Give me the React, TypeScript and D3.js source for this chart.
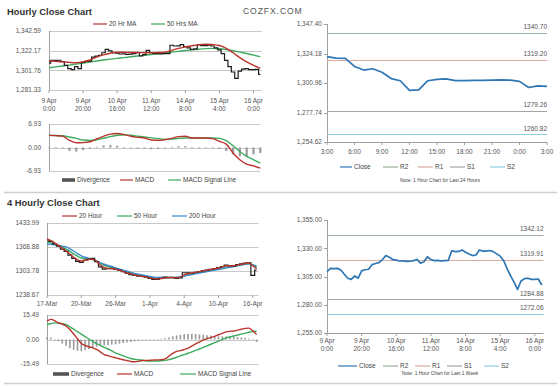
import * as d3 from "d3";

const FONT = "'Liberation Sans', Arial, Helvetica, sans-serif";
const locale = d3.formatLocale({ decimal: ".", thousands: ",", grouping: [3], currency: ["", ""], minus: "-" });
const fmtComma = locale.format(",.2f");
const fmtPlain = locale.format(".2f");

// ---- hourly chart (9 Apr 0:00 -> 16 Apr), close every 2h, MAs/MACD every 4h
const hourlyTicks = [
  ["9 Apr", "0:00"],
  ["9 Apr", "20:00"],
  ["10 Apr", "16:00"],
  ["11 Apr", "12:00"],
  ["14 Apr", "8:00"],
  ["15 Apr", "4:00"],
  ["16 Apr", "0:00"],
];
const hourlyYTicks = [1281.33, 1301.76, 1322.17, 1342.59];
const hourlyClose = [
  1309.3, 1312.2, 1312.0, 1312.2, 1310.8, 1307.0, 1303.5, 1302.5, 1305.5, 1303.5,
  1310.0, 1311.0, 1311.4, 1315.5, 1316.5, 1317.3, 1320.0, 1323.5, 1322.0, 1320.0,
  1319.5, 1318.7, 1318.8, 1318.4, 1318.5, 1319.0, 1320.2, 1316.7, 1318.0, 1322.5,
  1320.0, 1319.0, 1319.2, 1318.8, 1319.0, 1319.2, 1327.8, 1327.0, 1327.2, 1328.5,
  1326.5, 1325.0, 1323.5, 1324.0, 1328.5, 1327.5, 1327.5, 1328.0, 1327.0, 1325.0,
  1323.0, 1319.0, 1312.0, 1305.5, 1300.0, 1293.5, 1301.0, 1303.0, 1303.5, 1302.5,
  1302.5, 1302.8, 1297.5,
];
const hourlyMa20 = [
  1311.4, 1311.0, 1310.5, 1310.0, 1309.7, 1310.5, 1312.5, 1315.5, 1317.8, 1319.5,
  1320.5, 1320.5, 1320.3, 1320.2, 1320.0, 1320.0, 1320.2, 1320.5, 1322.5, 1324.5,
  1326.0, 1327.3, 1328.3, 1328.8, 1328.5, 1327.5, 1324.6, 1320.0, 1315.0, 1310.5,
  1307.0, 1303.8,
];
const hourlyMa50 = [
  1304.5, 1305.3, 1306.2, 1307.2, 1308.2, 1309.3, 1310.4, 1311.5, 1312.5, 1313.4,
  1314.2, 1315.0, 1315.8, 1316.6, 1317.4, 1318.2, 1319.0, 1319.8, 1320.6, 1321.4,
  1322.3, 1323.0, 1323.7, 1324.3, 1324.6, 1324.2, 1323.3, 1322.1, 1320.6, 1319.2,
  1317.6, 1315.9,
];
const hourlyMacdTicks = [-6.93, 0, 6.93];
const hourlyMacd = [
  3.57, 3.5, 3.37, 2.1, 1.4, 1.45, 1.7, 2.55, 3.3, 3.95,
  4.15, 3.8, 3.3, 3.0, 2.8, 2.2, 2.1, 2.3, 2.7, 3.2,
  3.3, 2.8, 2.8, 2.8, 2.6, 1.8, 1.0, -1.6, -3.6, -4.9,
  -5.4, -6.1,
];
const hourlySignal = [
  3.57, 3.55, 3.45, 3.1, 2.7, 2.2, 2.1, 2.3, 2.7, 3.2,
  3.6, 3.75, 3.6, 3.35, 3.1, 2.85, 2.6, 2.4, 2.5, 2.7,
  2.8, 2.8, 2.8, 2.8, 2.8, 2.7, 2.0, 0.5, -1.2, -2.6,
  -3.6, -4.6,
];
const hourlyDivergence = [
  0, 0.1, -0.2, -1.0, -1.2, -0.8, -0.4, 0.2, 0.6, 0.7,
  0.5, 0.1, -0.2, -0.3, -0.3, -0.5, -0.4, -0.1, 0.2, 0.4,
  0.4, 0.1, 0, 0, -0.1, -0.4, -1.0, -2.0, -2.6, -2.8,
  -2.0, -1.6,
];

// ---- last 24 hours
const dayTicks = ["3:00", "6:00", "9:00", "12:00", "15:00", "18:00", "21:00", "0:00", "3:00"];
const dayYTicks = [1254.62, 1277.74, 1300.96, 1324.18, 1347.4];
const dayClose = [
  1321.7, 1320.6, 1320.4, 1314.0, 1311.2, 1312.2, 1309.5, 1304.5, 1302.8, 1295.2,
  1295.6, 1302.8, 1303.9, 1304.3, 1302.9, 1302.9, 1303.0, 1303.0, 1303.3, 1303.4,
  1303.2, 1302.3, 1297.5, 1298.8, 1298.3,
];
const levelNames = ["R2", "R1", "S1", "S2"];
const dayLevels = [1340.7, 1319.2, 1279.26, 1260.82];
const weekLevels = [1342.12, 1319.91, 1284.88, 1272.06];
const weekYTicks = [1255, 1280, 1305, 1330, 1355];

// ---- 4 hourly chart, one point every 8h
const fourTicks = ["17-Mar", "20-Mar", "26-Mar", "1-Apr", "4-Apr", "10-Apr", "16-Apr"];
const fourYTicks = [1238.67, 1303.78, 1368.88, 1433.99];
const fourClose = [
  1388, 1384, 1377, 1371, 1363, 1357, 1347, 1338, 1330, 1327,
  1333, 1336, 1338, 1329, 1315, 1309, 1310, 1311, 1308, 1306,
  1302, 1298, 1294, 1292, 1290, 1289, 1287, 1284, 1281, 1281,
  1284, 1287, 1286, 1286, 1284, 1285, 1299, 1299, 1298, 1300,
  1302, 1305, 1306, 1308, 1310, 1313, 1316, 1320, 1318, 1317,
  1321, 1323, 1325, 1326, 1292, 1306,
];
const four20 = [
  1390, 1386, 1380, 1373, 1366, 1358, 1350, 1341, 1334, 1331,
  1333, 1335, 1336, 1330, 1320, 1313, 1311, 1310, 1309, 1306,
  1302, 1299, 1296, 1293, 1291, 1289, 1288, 1285, 1283, 1282,
  1283, 1285, 1286, 1286, 1285, 1287, 1293, 1297, 1298, 1300,
  1302, 1304, 1306, 1308, 1310, 1312, 1315, 1318, 1318, 1318,
  1320, 1322, 1324, 1325, 1318, 1310,
];
const four50 = [
  1383, 1380, 1377, 1373, 1368, 1363, 1357, 1350, 1344, 1339,
  1337, 1336, 1335, 1331, 1325, 1319, 1316, 1313, 1311, 1308,
  1305, 1301, 1298, 1295, 1293, 1291, 1289, 1287, 1285, 1284,
  1284, 1285, 1286, 1286, 1286, 1287, 1291, 1294, 1296, 1298,
  1300, 1302, 1304, 1306, 1308, 1310, 1313, 1315, 1316, 1317,
  1319, 1321, 1323, 1324, 1320, 1314,
];
const four200 = [
  1377, 1376, 1375, 1373, 1371, 1369, 1364, 1358, 1351, 1345,
  1341, 1338, 1335, 1331, 1326, 1322, 1319, 1316, 1312, 1309,
  1306, 1303, 1300, 1297, 1295, 1293, 1291, 1289, 1287, 1286,
  1286, 1286, 1286, 1286, 1287, 1288, 1290, 1292, 1294, 1296,
  1298, 1300, 1302, 1304, 1306, 1308, 1310, 1312, 1314, 1316,
  1318, 1320, 1322, 1323, 1321, 1317,
];
const fourMacdTicks = [-15.49, 0, 15.49];
const fourMacd = [
  11.6, 12.7, 12.0, 10.5, 9.8, 8.5, 6.3, 3.5, 0.5, -2.5,
  -3.8, -4.6, -5.3, -6.3, -7.8, -9.5, -10.2, -11.0, -11.6, -12.2,
  -12.8, -13.3, -13.9, -14.1, -13.8, -13.3, -13.3, -13.1, -13.0, -12.9,
  -12.8, -12.3, -10.5, -8.8, -7.5, -7.0, -6.3, -5.5, -4.2, -2.8,
  -1.6, -0.3, 0.6, 1.3, 2.0, 3.0, 3.9, 4.8, 5.2, 5.4,
  5.9, 6.5, 7.0, 7.2, 5.5, 3.2,
];
const fourSignal = [
  9.5, 10.0, 10.5, 10.3, 10.0, 9.4, 8.0, 6.5, 5.0, 3.4,
  1.8, 0.2, -1.2, -2.6, -3.8, -5.0, -6.0, -7.2, -8.4, -9.4,
  -10.4, -11.3, -12.0, -12.5, -12.8, -13.1, -13.4, -13.6, -13.7, -13.6,
  -13.4, -13.2, -12.7, -12.0, -11.2, -10.3, -9.6, -8.7, -7.8, -6.9,
  -6.0, -5.0, -4.0, -3.0, -2.0, -1.0, 0.0, 1.0, 1.6, 2.2,
  2.8, 3.4, 4.0, 4.6, 5.0, 5.2,
];
const fourDivergence = [
  1.5, 1.2, 0.3, -1.0, -2.5, -4.0, -5.5, -6.5, -7.2, -7.4,
  -6.8, -6.0, -5.2, -4.5, -4.0, -3.8, -3.5, -3.2, -3.0, -2.6,
  -2.2, -1.8, -1.5, -1.1, -0.8, -0.5, -0.2, 0, 0, 0.2,
  0.5, 0.8, 1.3, 2.0, 2.6, 3.0, 3.4, 3.6, 3.6, 3.5,
  3.2, 3.0, 2.7, 2.5, 2.2, 2.0, 2.0, 1.9, 1.8, 1.6,
  1.5, 1.3, 1.0, 0.6, -0.2, -1.5,
];

const C = {
  red: "#b9352c",
  green: "#3cab5d",
  blue: "#3b8dd0",
  black: "#1c1c1c",
  close: "#2f76b5",
  grid: "#c9c9c9",
  axis: "#a0a0a0",
  text: "#555",
  bar: "#9a9a9a",
  legendBar: "#555",
};
const levelColors = ["#9cb09c", "#d9aba3", "#a5a5a5", "#8ccfe4"];

type Scale = d3.ScaleLinear<number, number>;

function linePath(vals: number[], step: number, x: Scale, y: Scale, curve: d3.CurveFactory = d3.curveLinear) {
  return d3.line<number>().x((_, i) => x(i * step)).y((v) => y(v)).curve(curve)(vals) ?? "";
}

function YLabels({ ticks, y, x, format }: { ticks: number[]; y: Scale; x: number; format: (n: number) => string }) {
  return (
    <g>
      {ticks.map((t) => (
        <text key={t} x={x} y={y(t)} dy="0.35em" textAnchor="end" fontSize={6.5} fill={C.text}>
          {format(t)}
        </text>
      ))}
    </g>
  );
}

function Grid({ ticks, y, x0, x1 }: { ticks: number[]; y: Scale; x0: number; x1: number }) {
  return (
    <g>
      {ticks.map((t) => (
        <line key={t} x1={x0} x2={x1} y1={Math.round(y(t)) + 0.5} y2={Math.round(y(t)) + 0.5} stroke={C.grid} strokeWidth={1} />
      ))}
    </g>
  );
}

function Bars({ vals, step, x, y, w }: { vals: number[]; step: number; x: Scale; y: Scale; w: number }) {
  return (
    <g>
      {vals.map((v, i) => (
        <rect
          key={i}
          x={x(i * step) - w / 2}
          width={w}
          y={Math.min(y(v), y(0))}
          height={Math.max(0.6, Math.abs(y(v) - y(0)))}
          fill={C.bar}
        />
      ))}
    </g>
  );
}

function LegendLine({ x, y, len, color, label, bar }: { x: number; y: number; len: number; color: string; label: string; bar?: boolean }) {
  return (
    <g>
      {bar ? (
        <rect x={x} y={y - 1.8} width={len} height={3.6} fill={color} />
      ) : (
        <line x1={x} x2={x + len} y1={y} y2={y} stroke={color} strokeWidth={1.2} />
      )}
      <text x={x + len + 2} y={y} dy="0.35em" fontSize={6.5} fill="#444">
        {label}
      </text>
    </g>
  );
}

function LevelChart({
  x, y, yTicks, levels, close, step, xTicks, xTickStep, twoLine, legendY, noteY, note, legendX,
}: any) {
  const [x0, x1] = x.range();
  const [yb, yt] = y.range();
  return (
    <g>
      <line x1={x0 + 0.5} x2={x0 + 0.5} y1={yt} y2={yb} stroke={C.axis} />
      <line x1={x0} x2={x1} y1={yb + 0.5} y2={yb + 0.5} stroke={C.axis} />
      {yTicks.map((t: number) => (
        <line key={t} x1={x0 - 3} x2={x0} y1={Math.round(y(t)) + 0.5} y2={Math.round(y(t)) + 0.5} stroke={C.axis} />
      ))}
      {xTicks.map((_: any, i: number) => (
        <line key={i} x1={x(i * xTickStep)} x2={x(i * xTickStep)} y1={yb} y2={yb + 3} stroke={C.axis} />
      ))}
      <YLabels ticks={yTicks} y={y} x={x0 - 5} format={fmtComma} />
      {xTicks.map((t: any, i: number) =>
        twoLine ? (
          <text key={i} x={x(i * xTickStep)} y={yb + 10} textAnchor="middle" fontSize={6.5} fill={C.text}>
            <tspan x={x(i * xTickStep)}>{t[0]}</tspan>
            <tspan x={x(i * xTickStep)} dy={8}>{t[1]}</tspan>
          </text>
        ) : (
          <text key={i} x={x(i * xTickStep)} y={yb + 12} textAnchor="middle" fontSize={6.5} fill={C.text}>
            {t}
          </text>
        )
      )}
      {levels.map((v: number, i: number) => (
        <g key={i}>
          <line x1={x0} x2={x1} y1={Math.round(y(v)) + 0.5} y2={Math.round(y(v)) + 0.5} stroke={levelColors[i]} strokeWidth={1.2} />
          <text x={x1} y={y(v) - 3.5} textAnchor="end" fontSize={6.5} fill={C.text}>
            {fmtPlain(v)}
          </text>
        </g>
      ))}
      <path d={linePath(close, step, x, y)} fill="none" stroke={C.close} strokeWidth={1.7} strokeLinejoin="round" />
      <LegendLine x={legendX[0]} y={legendY} len={legendX[1]} color={C.close} label="Close" />
      {levelNames.map((n, i) => (
        <LegendLine key={n} x={legendX[2 + i]} y={legendY} len={15} color={levelColors[i]} label={n} />
      ))}
      <text x={440} y={noteY} dy="0.35em" textAnchor="middle" fontSize={4.9} fill="#444">
        {note}
      </text>
    </g>
  );
}

export default function App() {
  const hx = d3.scaleLinear().domain([0, 125]).range([49, 262]);
  const hy = d3.scaleLinear().domain([1281.33, 1342.59]).range([90, 31]);
  const hmy = d3.scaleLinear().domain([-6.93, 6.93]).range([171, 124]);
  const dx = d3.scaleLinear().domain([0, 24]).range([327, 547]);
  const dy = d3.scaleLinear().domain([1254.62, 1347.4]).range([142, 24]);
  const wx = d3.scaleLinear().domain([0, 125]).range([327, 543.5]);
  const wy = d3.scaleLinear().domain([1255, 1355]).range([333, 220]);
  const fx = d3.scaleLinear().domain([0, 55.5]).range([47, 258.5]);
  const fy = d3.scaleLinear().domain([1238.67, 1433.99]).range([295, 223]);
  const fmy = d3.scaleLinear().domain([-15.49, 15.49]).range([364, 315]);
  const smooth = d3.curveMonotoneX;

  return (
    <svg
      width={560}
      height={386}
      style={{ position: "absolute", left: 0, top: 0, background: "#fff" }}
      fontFamily={FONT}
    >
      <rect width={560} height={386} fill="#fff" />
      {/* titles */}
      <text x={7} y={15} fontSize={9.4} fontWeight="bold" fill="#333">Hourly Close Chart</text>
      <text x={243} y={14} fontSize={8.6} letterSpacing={0.9} fill="#555">COZFX.COM</text>
      <text x={7} y={206} fontSize={9.4} fontWeight="bold" fill="#333">4 Hourly Close Chart</text>
      <line x1={4} x2={557} y1={192.5} y2={192.5} stroke="#cfcfcf" strokeWidth={1.6} />
      <line x1={4} x2={557} y1={383.5} y2={383.5} stroke="#cfcfcf" strokeWidth={1.6} />

      {/* ---- Hourly close chart ---- */}
      <LegendLine x={93} y={24} len={14} color={C.red} label="20 Hr MA" />
      <LegendLine x={151} y={24} len={14} color={C.green} label="50 Hrs MA" />
      <Grid ticks={hourlyYTicks} y={hy} x0={49} x1={262} />
      <line x1={49.5} x2={49.5} y1={31} y2={90} stroke={C.axis} />
      {hourlyTicks.map((_, i) => (
        <line key={i} x1={hx(i * 20)} x2={hx(i * 20)} y1={90} y2={93} stroke={C.axis} />
      ))}
      <YLabels ticks={hourlyYTicks} y={hy} x={41} format={fmtComma} />
      {hourlyTicks.map((t, i) => (
        <text key={i} x={hx(i * 20)} y={103} textAnchor="middle" fontSize={6.5} fill={C.text}>
          <tspan x={hx(i * 20)}>{t[0]}</tspan>
          <tspan x={hx(i * 20)} dy={8}>{t[1]}</tspan>
        </text>
      ))}
      <path d={linePath(hourlyMa50, 4, hx, hy, smooth)} fill="none" stroke={C.green} strokeWidth={1.4} />
      <path d={linePath(hourlyClose, 2, hx, hy, d3.curveStep)} fill="none" stroke={C.black} strokeWidth={1.2} />
      <path d={linePath(hourlyMa20, 4, hx, hy, smooth)} fill="none" stroke={C.red} strokeWidth={1.4} />

      {/* hourly MACD */}
      <Grid ticks={hourlyMacdTicks} y={hmy} x0={49} x1={260} />
      <line x1={49.5} x2={49.5} y1={124} y2={171} stroke={C.axis} />
      <YLabels ticks={hourlyMacdTicks} y={hmy} x={41} format={fmtPlain} />
      <Bars vals={hourlyDivergence} step={4} x={hx} y={hmy} w={2.2} />
      <path d={linePath(hourlySignal, 4, hx, hmy, smooth)} fill="none" stroke={C.green} strokeWidth={1.4} />
      <path d={linePath(hourlyMacd, 4, hx, hmy, smooth)} fill="none" stroke={C.red} strokeWidth={1.4} />
      <LegendLine x={62} y={180} len={13} color={C.legendBar} label="Divergence" bar />
      <LegendLine x={120} y={180} len={13} color={C.red} label="MACD" />
      <LegendLine x={168} y={180} len={13} color={C.green} label="MACD Signal Line" />

      {/* ---- Last 24 hours ---- */}
      <LevelChart
        x={dx}
        y={dy}
        yTicks={dayYTicks}
        levels={dayLevels}
        close={dayClose}
        step={1}
        xTicks={dayTicks}
        xTickStep={3}
        twoLine={false}
        legendY={167}
        legendX={[340, 12, 383, 418, 450, 490]}
        noteY={180}
        note="Note: 1 Hour Chart for Last 24 Hours"
      />

      {/* ---- 4 hourly chart ---- */}
      <LegendLine x={62} y={216} len={15} color={C.red} label="20 Hour" />
      <LegendLine x={117} y={216} len={15} color={C.green} label="50 Hour" />
      <LegendLine x={172} y={216} len={15} color={C.blue} label="200 Hour" />
      <Grid ticks={fourYTicks} y={fy} x0={47} x1={258.5} />
      <line x1={47.5} x2={47.5} y1={223} y2={295} stroke={C.axis} />
      {fourTicks.map((_, i) => (
        <line key={i} x1={fx(i * 9)} x2={fx(i * 9)} y1={295} y2={298} stroke={C.axis} />
      ))}
      <YLabels ticks={fourYTicks} y={fy} x={39} format={fmtPlain} />
      {fourTicks.map((t, i) => (
        <text key={i} x={fx(i * 9)} y={306} textAnchor="middle" fontSize={6.5} fill={C.text}>
          {t}
        </text>
      ))}
      <path d={linePath(four50, 1, fx, fy, smooth)} fill="none" stroke={C.green} strokeWidth={1.4} />
      <path d={linePath(four200, 1, fx, fy, smooth)} fill="none" stroke={C.blue} strokeWidth={1.4} />
      <path d={linePath(fourClose, 1, fx, fy, d3.curveStep)} fill="none" stroke={C.black} strokeWidth={1.2} />
      <path d={linePath(four20, 1, fx, fy, smooth)} fill="none" stroke={C.red} strokeWidth={1.4} />

      {/* 4 hourly MACD */}
      <Grid ticks={fourMacdTicks} y={fmy} x0={47} x1={258.5} />
      <line x1={47.5} x2={47.5} y1={315} y2={364} stroke={C.axis} />
      <YLabels ticks={fourMacdTicks} y={fmy} x={39} format={fmtPlain} />
      <Bars vals={fourDivergence} step={1} x={fx} y={fmy} w={1.6} />
      <path d={linePath(fourSignal, 1, fx, fmy, smooth)} fill="none" stroke={C.green} strokeWidth={1.4} />
      <path d={linePath(fourMacd, 1, fx, fmy, smooth)} fill="none" stroke={C.red} strokeWidth={1.4} />
      <LegendLine x={53} y={374} len={16} color={C.legendBar} label="Divergence" bar />
      <LegendLine x={117} y={374} len={15} color={C.red} label="MACD" />
      <LegendLine x={180} y={374} len={16} color={C.green} label="MACD Signal Line" />

      {/* ---- Last week ---- */}
      <LevelChart
        x={wx}
        y={wy}
        yTicks={weekYTicks}
        levels={weekLevels}
        close={hourlyClose}
        step={2}
        xTicks={hourlyTicks}
        xTickStep={20}
        twoLine={true}
        legendY={366}
        legendX={[338, 19, 383, 415, 447, 484]}
        noteY={373}
        note="Note: 1 Hour Chart for Last 1 Week"
      />
    </svg>
  );
}
